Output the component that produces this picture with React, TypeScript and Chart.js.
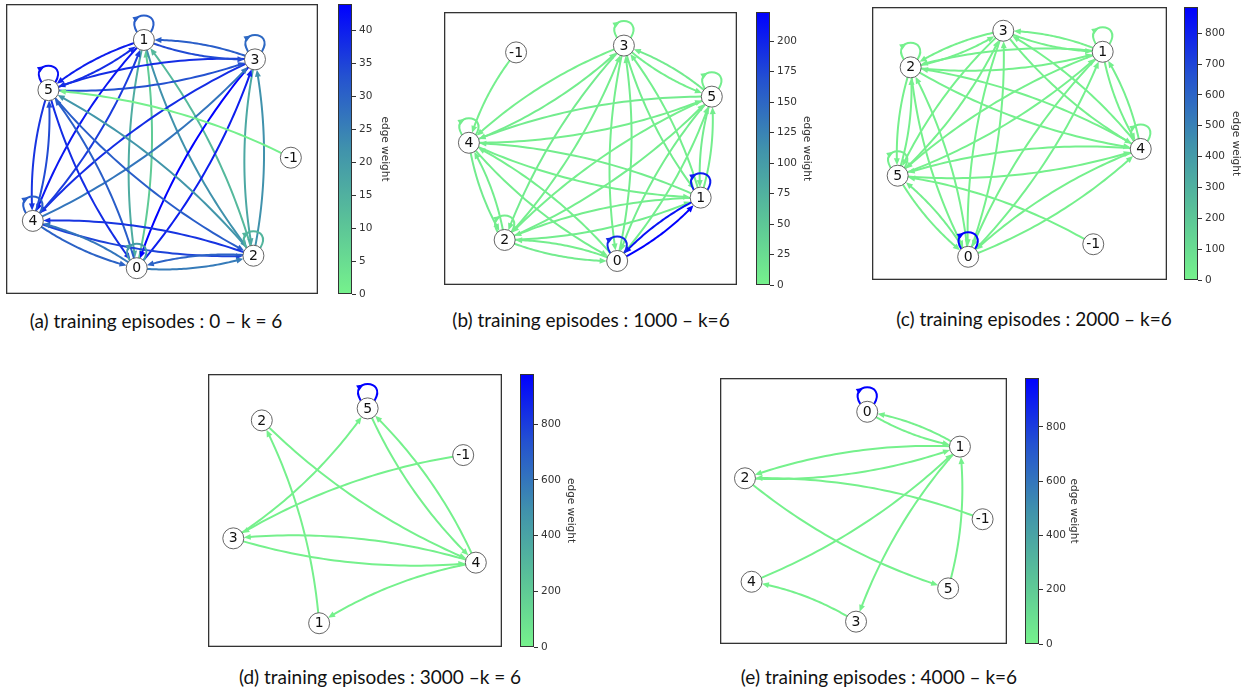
import React, { useEffect, useRef } from 'react';
import { Chart, registerables } from 'chart.js';

Chart.register(...registerables);

type Edge = [string, string, number];

// ---------------- DATA ----------------
// (a) training episodes : 0
const nodesA = ['1', '3', '5', '-1', '4', '2', '0'];
const nodeXA = [0.442, 0.798, 0.136, 0.913, 0.086, 0.793, 0.419];
const nodeYA = [0.876, 0.809, 0.703, 0.470, 0.252, 0.132, 0.089];
const edgesA: Edge[] = [
  ['1', '0', 16], ['0', '1', 9],
  ['1', '2', 22], ['2', '1', 13],
  ['3', '2', 17], ['2', '3', 22],
  ['3', '0', 44], ['0', '3', 40],
  ['3', '4', 38], ['4', '3', 27],
  ['5', '3', 33], ['3', '5', 38],
  ['3', '1', 31], ['1', '3', 34],
  ['1', '5', 40], ['5', '1', 38],
  ['1', '4', 41], ['4', '1', 36],
  ['5', '4', 37], ['4', '5', 34],
  ['0', '5', 31], ['5', '0', 38],
  ['5', '2', 31], ['2', '5', 21],
  ['2', '4', 37], ['4', '2', 35],
  ['4', '0', 30], ['0', '4', 27],
  ['2', '0', 30], ['0', '2', 26],
  ['1', '1', 31], ['3', '3', 29], ['5', '5', 42], ['4', '4', 31], ['2', '2', 14], ['0', '0', 20],
  ['-1', '5', 0.5],
];
const cbarMaxA = 44;
const cbarTicksA = [0, 5, 10, 15, 20, 25, 30, 35, 40];

// (b) training episodes : 1000
const nodesB = ['-1', '3', '5', '4', '1', '2', '0'];
const nodeXB = [0.246, 0.614, 0.914, 0.085, 0.876, 0.207, 0.591];
const nodeYB = [0.852, 0.877, 0.690, 0.521, 0.320, 0.165, 0.088];
const edgesB: Edge[] = [
  ['-1', '4', 3],
  ['5', '3', 8], ['3', '5', 4],
  ['4', '3', 6], ['3', '4', 3],
  ['2', '3', 5], ['3', '2', 7],
  ['0', '3', 6], ['3', '0', 5],
  ['1', '3', 4], ['3', '1', 6],
  ['4', '5', 5], ['5', '4', 7],
  ['1', '4', 6], ['4', '1', 4],
  ['2', '5', 5], ['5', '2', 3],
  ['0', '5', 4], ['5', '0', 6],
  ['1', '5', 5], ['5', '1', 7],
  ['4', '2', 8], ['2', '4', 6],
  ['4', '0', 5], ['0', '4', 4],
  ['2', '1', 6], ['1', '2', 5],
  ['2', '0', 7], ['0', '2', 5],
  ['0', '1', 224], ['1', '0', 212],
  ['3', '3', 4], ['5', '5', 5], ['4', '4', 6], ['2', '2', 5], ['1', '1', 205], ['0', '0', 195],
];
const cbarMaxB = 224;
const cbarTicksB = [0, 25, 50, 75, 100, 125, 150, 175, 200];

// (c) training episodes : 2000
const nodesC = ['3', '1', '2', '4', '5', '-1', '0'];
const nodeXC = [0.445, 0.782, 0.131, 0.911, 0.087, 0.750, 0.326];
const nodeYC = [0.913, 0.836, 0.779, 0.480, 0.382, 0.131, 0.085];
const edgesC: Edge[] = [
  ['3', '1', 8], ['1', '3', 10],
  ['3', '2', 9], ['2', '3', 7],
  ['1', '2', 11], ['2', '1', 8],
  ['1', '4', 9], ['4', '1', 12],
  ['3', '4', 7], ['4', '3', 6],
  ['2', '4', 10], ['4', '2', 8],
  ['5', '4', 9], ['4', '5', 11],
  ['5', '1', 10], ['1', '5', 7],
  ['5', '3', 8], ['3', '5', 6],
  ['5', '2', 9], ['2', '5', 7],
  ['0', '5', 12], ['5', '0', 10],
  ['0', '2', 11], ['2', '0', 9],
  ['0', '3', 8], ['3', '0', 6],
  ['0', '1', 10], ['1', '0', 7],
  ['0', '4', 9], ['4', '0', 8],
  ['-1', '5', 6],
  ['1', '1', 12], ['2', '2', 10], ['4', '4', 14], ['5', '5', 12], ['0', '0', 885],
];
const cbarMaxC = 885;
const cbarTicksC = [0, 100, 200, 300, 400, 500, 600, 700, 800];

// (d) training episodes : 3000
const nodesD = ['5', '2', '-1', '3', '4', '1'];
const nodeXD = [0.543, 0.183, 0.868, 0.086, 0.911, 0.378];
const nodeYD = [0.874, 0.830, 0.703, 0.398, 0.309, 0.087];
const edgesD: Edge[] = [
  ['1', '2', 8], ['2', '4', 6], ['3', '5', 7], ['-1', '3', 5],
  ['5', '4', 9], ['4', '5', 6], ['4', '3', 8], ['3', '4', 7], ['4', '1', 5],
  ['5', '5', 980],
];
const cbarMaxD = 980;
const cbarTicksD = [0, 200, 400, 600, 800];

// (e) training episodes : 4000
const nodesE = ['0', '1', '2', '-1', '4', '5', '3'];
const nodeXE = [0.513, 0.836, 0.087, 0.915, 0.110, 0.795, 0.474];
const nodeYE = [0.873, 0.742, 0.623, 0.469, 0.234, 0.209, 0.084];
const edgesE: Edge[] = [
  ['0', '1', 6], ['1', '0', 8], ['1', '2', 7], ['2', '1', 5], ['-1', '2', 4],
  ['2', '5', 6], ['4', '1', 5], ['1', '3', 7], ['5', '1', 6], ['3', '4', 5],
  ['0', '0', 980],
];
const cbarMaxE = 980;
const cbarTicksE = [0, 200, 400, 600, 800];

const captions = [
  '(a) training episodes : 0 \u2013 k = 6',
  '(b) training episodes : 1000 \u2013 k=6',
  '(c) training episodes : 2000 \u2013 k=6',
  '(d) training episodes : 3000 \u2013k = 6',
  '(e) training episodes : 4000 \u2013 k=6',
];

// ---------------- STYLE / LAYOUT ----------------
const CMAP: [number, number[]][] = [
  [0, [118, 242, 140]],
  [0.25, [90, 194, 152]],
  [0.5, [64, 146, 172]],
  [0.75, [36, 82, 208]],
  [1, [0, 0, 255]],
];
const rgb = (c: number[]) => `rgb(${Math.round(c[0])},${Math.round(c[1])},${Math.round(c[2])})`;
function cmap(v: number) {
  v = Math.max(0, Math.min(1, v));
  for (let i = 1; i < CMAP.length; i++) {
    if (v <= CMAP[i][0]) {
      const [t0, c0] = CMAP[i - 1];
      const [t1, c1] = CMAP[i];
      const f = (v - t0) / (t1 - t0);
      return rgb([0, 1, 2].map((k) => c0[k] + (c1[k] - c0[k]) * f));
    }
  }
  return rgb(CMAP[CMAP.length - 1][1]);
}

const panels = [
  { nodes: nodesA, xs: nodeXA, ys: nodeYA, edges: edgesA, max: cbarMaxA, ticks: cbarTicksA,
    box: { x: 6, y: 4, w: 312, h: 290 }, bar: { x: 338, y: 4, w: 14, h: 290 }, scaleW: 39, cap: { x: 156, y: 321 } },
  { nodes: nodesB, xs: nodeXB, ys: nodeYB, edges: edgesB, max: cbarMaxB, ticks: cbarTicksB,
    box: { x: 444, y: 12, w: 293, h: 273 }, bar: { x: 756, y: 12, w: 14, h: 273 }, scaleW: 43, cap: { x: 591, y: 320 } },
  { nodes: nodesC, xs: nodeXC, ys: nodeYC, edges: edgesC, max: cbarMaxC, ticks: cbarTicksC,
    box: { x: 872, y: 7, w: 295, h: 273 }, bar: { x: 1184, y: 7, w: 14, h: 273 }, scaleW: 44, cap: { x: 1034, y: 319 } },
  { nodes: nodesD, xs: nodeXD, ys: nodeYD, edges: edgesD, max: cbarMaxD, ticks: cbarTicksD,
    box: { x: 208, y: 374, w: 294, h: 273 }, bar: { x: 520, y: 374, w: 14, h: 273 }, scaleW: 43, cap: { x: 380, y: 677 } },
  { nodes: nodesE, xs: nodeXE, ys: nodeYE, edges: edgesE, max: cbarMaxE, ticks: cbarTicksE,
    box: { x: 720, y: 378, w: 287, h: 266 }, bar: { x: 1025, y: 378, w: 14, h: 266 }, scaleW: 41, cap: { x: 879, y: 677 } },
];

const NODE_R = 10.5;
const RAD = 0.1;
const HEAD_L = 7;
const HEAD_W = 3;
const LINE_W = 2;

type P = [number, number];
const dist = (a: P, b: P) => Math.hypot(a[0] - b[0], a[1] - b[1]);

function bisect(f: (t: number) => number, lo: number, hi: number) {
  let flo = f(lo);
  for (let i = 0; i < 40; i++) {
    const mid = (lo + hi) / 2;
    const fm = f(mid);
    if ((fm > 0) === (flo > 0)) { lo = mid; flo = fm; } else hi = mid;
  }
  return (lo + hi) / 2;
}

function drawHead(ctx: CanvasRenderingContext2D, tip: P, from: P, col: string) {
  const ang = Math.atan2(tip[1] - from[1], tip[0] - from[0]);
  const bx = tip[0] - HEAD_L * Math.cos(ang);
  const by = tip[1] - HEAD_L * Math.sin(ang);
  ctx.beginPath();
  ctx.moveTo(tip[0], tip[1]);
  ctx.lineTo(bx + HEAD_W * Math.sin(ang), by - HEAD_W * Math.cos(ang));
  ctx.lineTo(bx - HEAD_W * Math.sin(ang), by + HEAD_W * Math.cos(ang));
  ctx.closePath();
  ctx.fillStyle = col;
  ctx.fill();
}

function drawEdge(ctx: CanvasRenderingContext2D, a: P, b: P, col: string) {
  const dx = b[0] - a[0];
  const dy = b[1] - a[1];
  const c: P = [(a[0] + b[0]) / 2 - RAD * dy, (a[1] + b[1]) / 2 + RAD * dx];
  const B = (t: number): P => {
    const u = 1 - t;
    return [u * u * a[0] + 2 * u * t * c[0] + t * t * b[0], u * u * a[1] + 2 * u * t * c[1] + t * t * b[1]];
  };
  const t0 = bisect((t) => dist(B(t), a) - NODE_R, 0, 0.5);
  const t1 = bisect((t) => dist(B(t), b) - NODE_R, 0.5, 1);
  const tip = B(t1);
  const tb = bisect((t) => dist(B(t), tip) - HEAD_L * 0.85, t0, t1);
  ctx.beginPath();
  const n = 40;
  for (let i = 0; i <= n; i++) {
    const p = B(t0 + ((tb - t0) * i) / n);
    if (i === 0) ctx.moveTo(p[0], p[1]); else ctx.lineTo(p[0], p[1]);
  }
  ctx.strokeStyle = col;
  ctx.lineWidth = LINE_W;
  ctx.stroke();
  const back = B(bisect((t) => dist(B(t), tip) - HEAD_L, t0, t1));
  drawHead(ctx, tip, back, col);
}

function drawLoop(ctx: CanvasRenderingContext2D, p: P, col: string) {
  const [x, y] = p;
  const P0: P = [x - 7, y - 8], P1: P = [x - 20, y - 30], P2: P = [x + 20, y - 30], P3: P = [x + 7, y - 8];
  const B = (t: number): P => {
    const u = 1 - t;
    return [
      u * u * u * P0[0] + 3 * u * u * t * P1[0] + 3 * u * t * t * P2[0] + t * t * t * P3[0],
      u * u * u * P0[1] + 3 * u * u * t * P1[1] + 3 * u * t * t * P2[1] + t * t * t * P3[1],
    ];
  };
  ctx.beginPath();
  ctx.moveTo(P0[0], P0[1]);
  ctx.bezierCurveTo(P1[0], P1[1], P2[0], P2[1], P3[0], P3[1]);
  ctx.strokeStyle = col;
  ctx.lineWidth = LINE_W;
  ctx.stroke();
  drawHead(ctx, B(0.4), B(0.3), col);
}

function graphPlugin(g: any) {
  const pos = (chart: any, label: string): P => {
    const i = g.nodes.indexOf(label);
    return [chart.scales.x.getPixelForValue(g.xs[i]), chart.scales.y.getPixelForValue(g.ys[i])];
  };
  return {
    id: 'graphEdges',
    beforeDatasetsDraw(chart: any) {
      const ctx = chart.ctx as CanvasRenderingContext2D;
      ctx.save();
      ctx.lineCap = 'round';
      for (const [u, v, w] of g.edges as Edge[]) {
        const col = cmap(w / g.max);
        if (u === v) drawLoop(ctx, pos(chart, u), col);
        else drawEdge(ctx, pos(chart, u), pos(chart, v), col);
      }
      ctx.restore();
    },
    afterDatasetsDraw(chart: any) {
      const ctx = chart.ctx as CanvasRenderingContext2D;
      ctx.save();
      ctx.font = '14px "DejaVu Sans"';
      ctx.fillStyle = '#111';
      ctx.textAlign = 'center';
      ctx.textBaseline = 'middle';
      for (const n of g.nodes) {
        const [x, y] = pos(chart, n);
        ctx.fillText(n, x, y + 0.5);
      }
      ctx.restore();
    },
    afterDraw(chart: any) {
      const ctx = chart.ctx as CanvasRenderingContext2D;
      const ca = chart.chartArea;
      ctx.save();
      ctx.strokeStyle = '#333';
      ctx.lineWidth = 1.3;
      ctx.strokeRect(ca.left + 0.65, ca.top + 0.65, ca.right - ca.left - 1.3, ca.bottom - ca.top - 1.3);
      ctx.restore();
    },
  };
}

function GraphPanel({ g }: { g: any }) {
  const ref = useRef<HTMLCanvasElement>(null);
  useEffect(() => {
    const chart = new Chart(ref.current!, {
      type: 'scatter',
      data: {
        datasets: [{
          data: g.nodes.map((_: string, i: number) => ({ x: g.xs[i], y: g.ys[i] })),
          pointRadius: NODE_R,
          pointHoverRadius: NODE_R,
          pointBackgroundColor: '#fff',
          pointBorderColor: '#555',
          pointBorderWidth: 0.9,
          clip: false,
        } as any],
      },
      options: {
        responsive: false,
        animation: false,
        events: [],
        layout: { padding: 0, autoPadding: false },
        plugins: { legend: { display: false }, tooltip: { enabled: false } },
        scales: {
          x: { type: 'linear', display: false, min: 0, max: 1 },
          y: { type: 'linear', display: false, min: 0, max: 1 },
        },
      } as any,
      plugins: [graphPlugin(g)],
    });
    return () => chart.destroy();
  }, []);
  const b = g.box;
  return (
    <canvas ref={ref} width={b.w} height={b.h}
      style={{ position: 'absolute', left: b.x, top: b.y, width: b.w, height: b.h }} />
  );
}

const framePlugin = {
  id: 'cbarFrame',
  afterDraw(chart: any) {
    const ctx = chart.ctx as CanvasRenderingContext2D;
    const ca = chart.chartArea;
    ctx.save();
    ctx.strokeStyle = '#333';
    ctx.lineWidth = 1;
    ctx.strokeRect(ca.left + 0.5, ca.top + 0.5, ca.right - ca.left - 1, ca.bottom - ca.top - 1);
    ctx.restore();
  },
};

function ColorBar({ g }: { g: any }) {
  const ref = useRef<HTMLCanvasElement>(null);
  const PAD = 8;
  useEffect(() => {
    const chart = new Chart(ref.current!, {
      type: 'bar',
      data: {
        labels: [''],
        datasets: [{
          data: [g.max],
          backgroundColor: (c: any) => {
            const ca = c.chart.chartArea;
            if (!ca) return rgb(CMAP[0][1]);
            const gr = c.chart.ctx.createLinearGradient(0, ca.bottom, 0, ca.top);
            CMAP.forEach(([t, col]) => gr.addColorStop(t, rgb(col)));
            return gr;
          },
          borderWidth: 0,
          barPercentage: 1,
          categoryPercentage: 1,
        }],
      },
      options: {
        responsive: false,
        animation: false,
        events: [],
        layout: { padding: { top: PAD, bottom: PAD, left: 0, right: 0 }, autoPadding: false },
        plugins: { legend: { display: false }, tooltip: { enabled: false } },
        scales: {
          x: { display: false },
          y: {
            position: 'right',
            min: 0,
            max: g.max,
            ticks: { font: { family: 'DejaVu Sans', size: 10.5 }, color: '#333', padding: 3, autoSkip: false },
            grid: { drawOnChartArea: false, drawTicks: true, tickLength: 4, tickColor: '#333' },
            border: { display: false },
            title: { display: true, text: 'edge weight', font: { family: 'DejaVu Sans', size: 10.5 }, color: '#333', padding: 0 },
            afterBuildTicks: (s: any) => {
              s.ticks = g.ticks.map((v: number) => ({ value: v }));
            },
            afterFit: (s: any) => {
              s.width = g.scaleW;
              s.paddingTop = 0;
              s.paddingBottom = 0;
            },
          } as any,
        },
      } as any,
      plugins: [framePlugin],
    });
    return () => chart.destroy();
  }, []);
  const b = g.bar;
  const w = b.w + g.scaleW;
  const h = b.h + 2 * PAD;
  return (
    <canvas ref={ref} width={w} height={h}
      style={{ position: 'absolute', left: b.x, top: b.y - PAD, width: w, height: h }} />
  );
}

export default function App() {
  return (
    <div style={{ position: 'absolute', left: 0, top: 0, width: 1255, height: 690, background: '#fff', overflow: 'hidden' }}>
      {panels.map((g, i) => (
        <React.Fragment key={i}>
          <GraphPanel g={g} />
          <ColorBar g={g} />
          <div style={{
            position: 'absolute', left: g.cap.x - 200, top: g.cap.y - 12, width: 400, height: 24,
            lineHeight: '24px', textAlign: 'center', whiteSpace: 'nowrap',
            fontFamily: 'Lato, "Open Sans", sans-serif', fontSize: 19, color: '#111',
          }}>{captions[i]}</div>
        </React.Fragment>
      ))}
    </div>
  );
}
